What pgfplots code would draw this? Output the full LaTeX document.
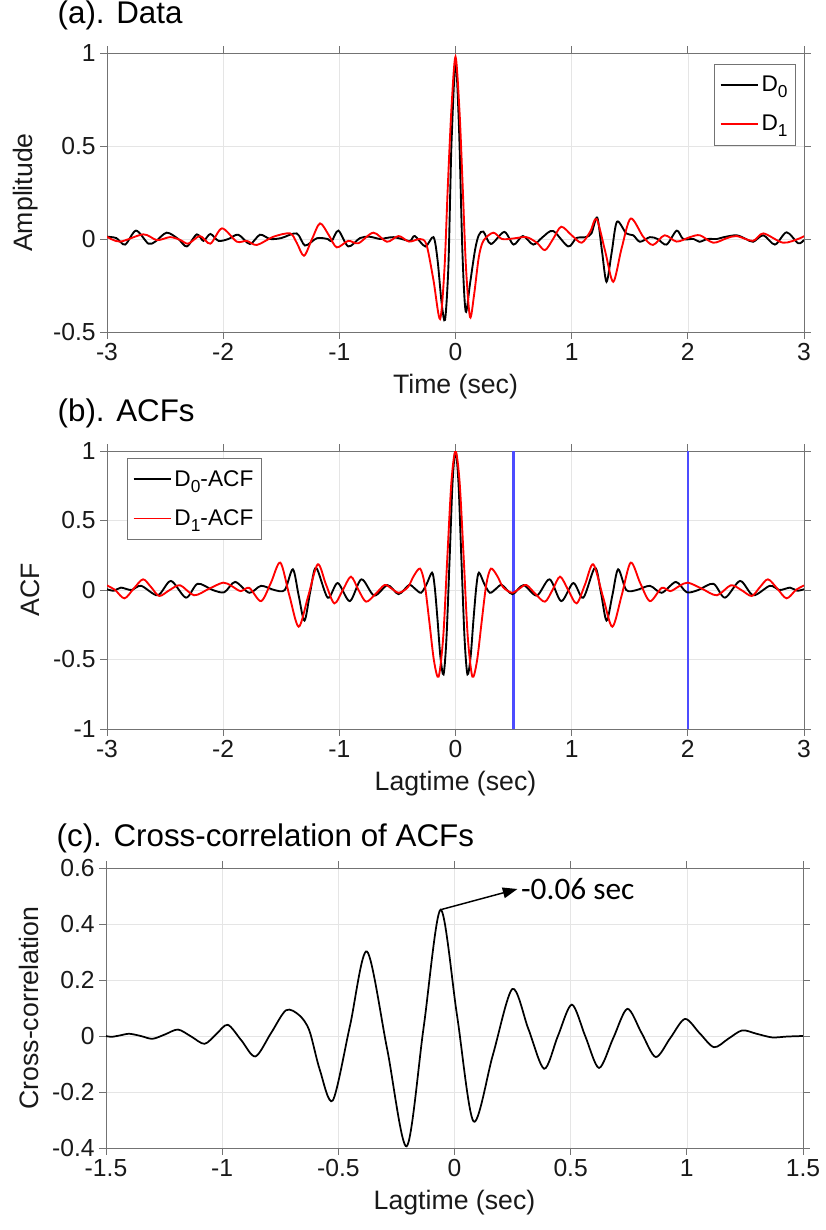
\documentclass[border=0pt]{standalone}
\usepackage{fontspec}
\setmainfont{Liberation Sans}
\newfontfamily\calfont{Carlito}
\usepackage{pgfplots}
\pgfplotsset{compat=1.18}
\usetikzlibrary{arrows.meta}
\definecolor{vblue}{rgb}{0.3,0.3,1}
\definecolor{fr}{rgb}{0.45,0.45,0.45}
\newcommand{\sub}[1]{\raisebox{-0.5ex}{\fontsize{13}{13}\selectfont #1}}
\pgfplotsset{
  mystyle/.style={
    scale only axis,
    width=522.75pt,
    tick align=outside,
    major tick length=5pt,
    axis line style={fr, line width=0.6pt},
    every tick/.style={fr, line width=0.6pt},
    grid=major,
    major grid style={black!10, line width=0.5pt},
    tick label style={font=\fontsize{18.5}{20}\selectfont, black!90},
    label style={font=\fontsize{20}{22}\selectfont, black!90},
    xlabel style={yshift=-3pt},
    /pgf/number format/assume math mode=true,
    title style={font=\fontsize{23.5}{26}\selectfont, at={(0,1)}, anchor=base west, xshift=-40.5pt, yshift=16pt},
    legend style={font=\fontsize{17}{19}\selectfont, fill=white, draw=fr, line width=0.6pt, row sep=12pt, inner xsep=4pt, inner ysep=7pt},
    legend cell align=left,
    legend image code/.code={\draw[#1] (0pt,0pt) -- (28pt,0pt);},
  }
}
\begin{document}
\begin{tikzpicture}
\useasboundingbox (0,0) rectangle (618.75pt,-922.5pt);
% ---------------- (a)
\begin{axis}[mystyle, height=209.25pt, at={(80.25pt,-39.75pt)}, anchor=north west,
  xmin=-3, xmax=3, ymin=-0.5, ymax=1,
  xtick={-3,-2,-1,0,1,2,3}, ytick={-0.5,0,0.5,1},
  xlabel={Time (sec)}, ylabel={Amplitude},
  ylabel style={at={(axis description cs:-0.117,0.5)}, anchor=center},
  title={(a). Data},
  legend style={at={(1,1)}, anchor=north east, xshift=-6pt, yshift=-8.25pt}]
\addlegendimage{black, line width=1.3pt}
\addlegendentry{D\sub{0}}
\addlegendimage{red, line width=1.3pt}
\addlegendentry{D\sub{1}}
\addplot[black, line width=1.4pt, smooth, forget plot] coordinates {
(-3.0,0.012) (-2.92,0.005) (-2.844,-0.03) (-2.75,0.045) (-2.644,-0.025) (-2.58,-0.012) (-2.486,0.034) (-2.386,0.0) (-2.313,-0.04) (-2.227,0.025) (-2.17,-0.01) (-2.11,0.027) (-2.04,-0.01) (-1.955,0.0) (-1.87,0.023) (-1.77,-0.027) (-1.683,0.023) (-1.596,0.0) (-1.50,0.005) (-1.367,0.03) (-1.295,-0.035) (-1.194,0.004) (-1.10,0.0) (-1.066,-0.012) (-1.008,0.045) (-0.923,-0.04) (-0.822,0.005) (-0.74,0.012) (-0.65,0.0) (-0.6,0.005) (-0.535,0.01) (-0.463,0.0) (-0.39,-0.01) (-0.35,0.016) (-0.26,-0.04) (-0.19,0.01) (-0.155,-0.11) (-0.12,-0.34) (-0.09,-0.435) (-0.062,-0.16) (-0.045,0.26) (-0.033,0.54) (0,0.953) (0.03,0.60) (0.06,-0.08) (0.088,-0.39) (0.125,-0.24) (0.168,-0.06) (0.2,0.02) (0.24,0.04) (0.305,-0.027) (0.42,0.038) (0.5,-0.03) (0.58,0.016) (0.67,-0.03) (0.75,0.01) (0.84,0.043) (0.97,-0.04) (1.04,0.005) (1.12,0.01) (1.17,0.03) (1.22,0.115) (1.26,-0.06) (1.30,-0.23) (1.345,-0.07) (1.39,0.093) (1.47,0.03) (1.53,0.02) (1.588,-0.015) (1.674,0.01) (1.74,0.0) (1.817,-0.03) (1.904,0.045) (1.96,0.0) (2.05,0.0) (2.10,-0.015) (2.17,0.0) (2.25,0.0) (2.31,0.01) (2.42,0.02) (2.50,0.0) (2.563,-0.015) (2.65,0.02) (2.75,-0.03) (2.85,0.036) (2.95,-0.023) (3.0,-0.005)
};
\addplot[red, line width=1.4pt, smooth, forget plot] coordinates {
(-3.0,0.012) (-2.887,-0.014) (-2.687,0.025) (-2.57,-0.006) (-2.457,0.01) (-2.37,-0.005) (-2.30,-0.025) (-2.20,0.016) (-2.11,-0.025) (-2.01,0.057) (-1.883,-0.014) (-1.797,-0.01) (-1.71,-0.032) (-1.568,0.012) (-1.424,0.03) (-1.367,-0.02) (-1.304,-0.09) (-1.235,0.0) (-1.166,0.084) (-1.09,0.02) (-1.022,-0.045) (-0.923,-0.01) (-0.836,-0.023) (-0.707,0.034) (-0.59,-0.015) (-0.49,0.016) (-0.40,-0.014) (-0.305,0.0) (-0.25,-0.03) (-0.19,-0.22) (-0.133,-0.43) (-0.095,-0.16) (-0.067,0.27) (-0.035,0.7) (0,0.98) (0.035,0.68) (0.062,0.28) (0.09,-0.15) (0.125,-0.42) (0.16,-0.3) (0.2,-0.1) (0.24,-0.01) (0.325,0.034) (0.40,0.0) (0.5,0.003) (0.61,0.01) (0.70,-0.02) (0.77,-0.06) (0.84,0.0) (0.91,0.066) (1.0,0.02) (1.086,-0.02) (1.16,0.04) (1.215,0.107) (1.29,-0.07) (1.358,-0.23) (1.43,-0.05) (1.508,0.11) (1.616,0.012) (1.70,-0.032) (1.80,0.02) (1.904,-0.014) (2.018,0.01) (2.104,0.02) (2.219,-0.02) (2.334,0.004) (2.42,0.016) (2.56,-0.01) (2.65,0.03) (2.82,-0.02) (2.965,0.004) (3.0,0.016)
};
\end{axis}
% ---------------- (b)
\begin{axis}[mystyle, height=208.5pt, at={(80.25pt,-338.25pt)}, anchor=north west,
  xmin=-3, xmax=3, ymin=-1, ymax=1,
  xtick={-3,-2,-1,0,1,2,3}, ytick={-1,-0.5,0,0.5,1},
  xlabel={Lagtime (sec)}, ylabel={ACF},
  ylabel style={at={(axis description cs:-0.11,0.5)}, anchor=center},
  title={(b). ACFs},
  legend style={at={(0.0287,0.975)}, anchor=north west}]
\addlegendimage{black, line width=1.3pt}
\addlegendentry{D\sub{0}-ACF}
\addlegendimage{red, line width=1.3pt}
\addlegendentry{D\sub{1}-ACF}
\addplot[vblue, line width=1.8pt, forget plot] coordinates {(0.5,-1) (0.5,1)};
\addplot[vblue, line width=1.8pt, forget plot] coordinates {(2,-1) (2,1)};
\addplot[black, line width=1.4pt, smooth, forget plot] coordinates {
(-3.0,0.005) (-2.94,-0.005) (-2.88,0.017) (-2.79,0.0) (-2.706,0.03) (-2.563,-0.038) (-2.45,0.065) (-2.32,-0.055) (-2.22,0.045) (-2.09,0.0) (-1.99,-0.016) (-1.897,0.058) (-1.775,-0.02) (-1.674,0.03) (-1.56,0.0) (-1.47,0.0) (-1.40,0.149) (-1.35,-0.04) (-1.30,-0.22) (-1.25,-0.01) (-1.20,0.16) (-1.10,-0.055) (-1.014,0.05) (-0.91,-0.08) (-0.81,0.077) (-0.70,-0.04) (-0.584,0.035) (-0.49,-0.03) (-0.40,0.036) (-0.35,0.01) (-0.297,-0.02) (-0.25,0.04) (-0.202,0.125) (-0.18,0.03) (-0.155,-0.21) (-0.13,-0.48) (-0.103,-0.607) (-0.078,-0.35) (-0.05,0.24) (-0.025,0.78) (0,1) (0.025,0.78) (0.05,0.24) (0.078,-0.35) (0.103,-0.607) (0.13,-0.48) (0.155,-0.21) (0.18,0.03) (0.202,0.125) (0.25,0.04) (0.297,-0.02) (0.35,0.01) (0.40,0.036) (0.49,-0.03) (0.584,0.035) (0.70,-0.04) (0.81,0.077) (0.91,-0.08) (1.014,0.05) (1.10,-0.055) (1.20,0.16) (1.25,-0.01) (1.30,-0.22) (1.35,-0.04) (1.40,0.149) (1.47,0.0) (1.56,0.0) (1.674,0.03) (1.775,-0.02) (1.897,0.058) (1.99,-0.016) (2.09,0.0) (2.22,0.045) (2.32,-0.055) (2.45,0.065) (2.563,-0.038) (2.706,0.03) (2.79,0.0) (2.88,0.017) (2.94,-0.005) (3.0,0.005)
};
\addplot[red, line width=1.4pt, smooth, forget plot] coordinates {
(-3.0,0.033) (-2.93,0.0) (-2.85,-0.06) (-2.77,0.01) (-2.69,0.077) (-2.62,0.02) (-2.55,-0.043) (-2.46,0.0) (-2.37,0.034) (-2.25,-0.038) (-2.12,0.01) (-2.0,0.053) (-1.93,0.03) (-1.85,-0.008) (-1.775,0.015) (-1.674,-0.08) (-1.59,0.05) (-1.508,0.197) (-1.43,-0.04) (-1.35,-0.264) (-1.27,-0.05) (-1.186,0.185) (-1.115,0.04) (-1.043,-0.096) (-0.97,0.0) (-0.90,0.096) (-0.835,0.0) (-0.77,-0.084) (-0.69,-0.03) (-0.61,0.036) (-0.55,0.01) (-0.487,-0.02) (-0.41,0.02) (-0.36,0.1) (-0.305,0.154) (-0.265,0.04) (-0.225,-0.23) (-0.185,-0.51) (-0.145,-0.623) (-0.105,-0.33) (-0.07,0.24) (-0.035,0.78) (0,1) (0.035,0.78) (0.07,0.24) (0.105,-0.33) (0.145,-0.623) (0.185,-0.51) (0.225,-0.23) (0.265,0.04) (0.305,0.154) (0.36,0.1) (0.41,0.02) (0.487,-0.02) (0.55,0.01) (0.61,0.036) (0.69,-0.03) (0.77,-0.084) (0.835,0.0) (0.90,0.096) (0.97,0.0) (1.043,-0.096) (1.115,0.04) (1.186,0.185) (1.27,-0.05) (1.35,-0.264) (1.43,-0.04) (1.508,0.197) (1.59,0.05) (1.674,-0.08) (1.775,0.015) (1.85,-0.008) (1.93,0.03) (2.0,0.053) (2.12,0.01) (2.25,-0.038) (2.37,0.034) (2.46,0.0) (2.55,-0.043) (2.62,0.02) (2.69,0.077) (2.77,0.01) (2.85,-0.06) (2.93,0.0) (3.0,0.033)
};
\end{axis}
% ---------------- (c)
\begin{axis}[mystyle, height=210pt, at={(79.5pt,-651pt)}, anchor=north west,
  xmin=-1.5, xmax=1.5, ymin=-0.4, ymax=0.6,
  xtick={-1.5,-1,-0.5,0,0.5,1,1.5}, ytick={-0.4,-0.2,0,0.2,0.4,0.6},
  yticklabels={-0.4,-0.2,0,0.2,0.4,0.6},
  xlabel={Lagtime (sec)}, ylabel={Cross-correlation},
  ylabel style={at={(axis description cs:-0.11,0.5)}, anchor=center},
  title={(c). Cross-correlation of ACFs},
  title style={yshift=-6pt}]
\addplot[black, line width=1.3pt, smooth] coordinates {
(-1.5,0.0) (-1.477,-0.003) (-1.44,0.002) (-1.40,0.008) (-1.35,0.0) (-1.30,-0.01) (-1.245,0.006) (-1.19,0.023) (-1.133,-0.002) (-1.076,-0.028) (-1.026,0.006) (-0.976,0.04) (-0.917,-0.016) (-0.857,-0.073) (-0.79,0.01) (-0.725,0.092) (-0.668,0.074) (-0.625,0.02) (-0.58,-0.12) (-0.524,-0.23) (-0.45,0.036) (-0.377,0.302) (-0.29,-0.046) (-0.206,-0.394) (-0.133,0.03) (-0.06,0.451) (0.011,0.073) (0.082,-0.305) (0.165,-0.068) (0.249,0.168) (0.318,0.025) (0.386,-0.117) (0.445,0.0) (0.505,0.112) (0.563,-0.001) (0.622,-0.114) (0.683,-0.008) (0.744,0.097) (0.805,0.011) (0.866,-0.075) (0.929,-0.007) (0.992,0.061) (1.055,0.01) (1.117,-0.04) (1.178,-0.01) (1.238,0.02) (1.30,0.008) (1.367,-0.005) (1.43,-0.002) (1.5,0.0)
};
\draw[black, line width=1.1pt, -{Triangle[length=11pt,width=8pt]}] (axis cs:-0.06,0.451) -- (axis cs:0.271,0.525);
\node[anchor=west, font=\calfont\fontsize{23.5}{26}\selectfont, inner sep=1pt] at (axis cs:0.28,0.525) {-0.06 sec};
\end{axis}
\end{tikzpicture}
\end{document}
